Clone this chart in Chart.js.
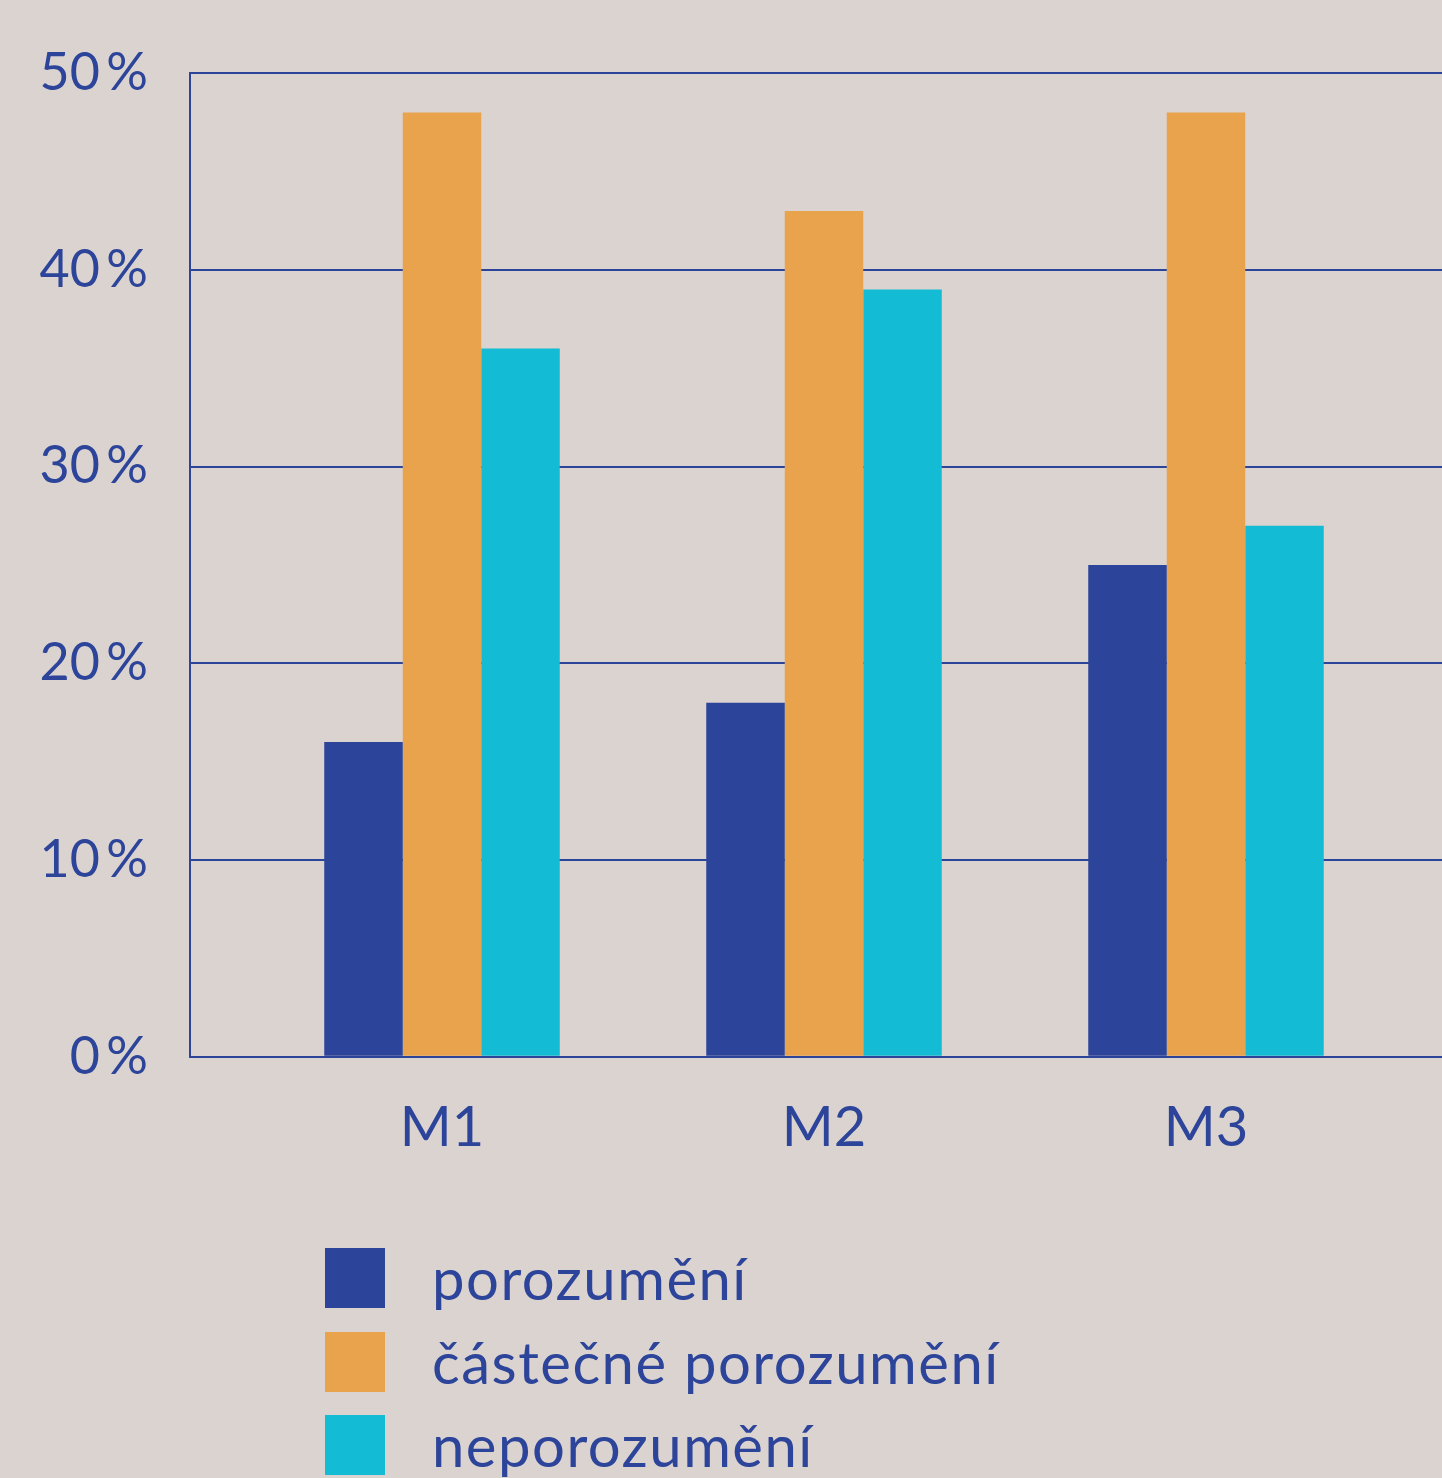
<!DOCTYPE html>
<html lang="cs">
<head>
<meta charset="utf-8">
<title>Porozumění M1–M3</title>
<script src="https://cdn.jsdelivr.net/npm/chart.js@4.4.1/dist/chart.umd.min.js"></script>
<style>
  html, body {
    margin: 0;
    padding: 0;
    background: #dbd3cf;
    font-family: "Lato", "Open Sans", sans-serif;
    color: #2c4499;
  }
  .wrap {
    position: relative;
    width: 1442px;
    height: 1478px;
    overflow: hidden;
  }
  .chart-box {
    position: absolute;
    left: 0;
    top: 0;
    width: 1442px;
    height: 1200px;
  }
  #legendList {
    position: absolute;
    left: 325px;
    top: 1248px;
  }
  .legend-item {
    display: flex;
    align-items: center;
    height: 60px;
    margin-bottom: 23.5px;
  }
  .legend-swatch {
    width: 60px;
    height: 60px;
    flex: none;
  }
  .legend-label {
    margin-left: 47px;
    font-size: 58px;
    line-height: 60px;
    letter-spacing: 1.5px;
  }
</style>
</head>
<body>
<div class="wrap">
  <div class="chart-box"><canvas id="barChart"></canvas></div>
  <div id="legendList"></div>
</div>
<script>
// DATA
const categories = ["M1", "M2", "M3"];
const seriesNames = ["porozumění", "částečné porozumění", "neporozumění"];
const porozumeni = [16, 18, 25];
const castecne = [48, 43, 48];
const neporozumeni = [36, 39, 27];
const yTicks = [0, 10, 20, 30, 40, 50];

const ink = "#2c4499";
const colors = ["#2c4499", "#e8a34c", "#13bbd5"];

const toPoints = (arr) => arr.map((v, i) => ({ x: i + 1, y: v }));

const datasets = [porozumeni, castecne, neporozumeni].map((arr, idx) => ({
  label: seriesNames[idx],
  data: toPoints(arr),
  backgroundColor: colors[idx],
  borderWidth: 0,
  barPercentage: 1,
  categoryPercentage: 0.6165,
}));

function buildLegend() {
  const legend = document.getElementById("legendList");
  legend.innerHTML = "";
  datasets.forEach((ds, idx) => {
    const item = document.createElement("div");
    item.className = "legend-item";
    const sw = document.createElement("span");
    sw.className = "legend-swatch";
    sw.style.background = colors[idx];
    const label = document.createElement("span");
    label.className = "legend-label";
    label.textContent = ds.label;
    item.appendChild(sw);
    item.appendChild(label);
    legend.appendChild(item);
  });
}

const tickFont = { family: "Lato, 'Open Sans', sans-serif", size: 52 };

const ctx = document.getElementById("barChart").getContext("2d");
const chart = new Chart(ctx, {
  type: "bar",
  data: { datasets },
  options: {
    responsive: true,
    maintainAspectRatio: false,
    animation: false,
    layout: { padding: { top: 50, right: 0, left: 0, bottom: 0 } },
    plugins: {
      legend: { display: false },
      tooltip: { enabled: false },
    },
    scales: {
      x: {
        type: "linear",
        offset: false,
        min: 0.3403,
        max: 3.6178,
        afterBuildTicks: (axis) => {
          axis.ticks = categories.map((c, i) => ({ value: i + 1 }));
        },
        grid: { display: false, drawTicks: false, offset: false },
        border: { display: false },
        ticks: {
          color: ink,
          font: { family: tickFont.family, size: 56 },
          padding: 38,
          maxRotation: 0,
          callback: (v) => categories[v - 1] || "",
        },
      },
      y: {
        min: 0,
        max: 50,
        afterBuildTicks: (axis) => {
          axis.ticks = yTicks.map((v) => ({ value: v }));
        },
        afterFit: (axis) => {
          axis.width = 190;
        },
        grid: {
          color: ink,
          lineWidth: 2,
          drawTicks: false,
        },
        border: { display: true, color: ink, width: 2 },
        ticks: {
          color: ink,
          font: tickFont,
          padding: 42,
          callback: (v) => `${v}\u2009%`,
        },
      },
    },
  },
});

buildLegend();
</script>
</body>
</html>
